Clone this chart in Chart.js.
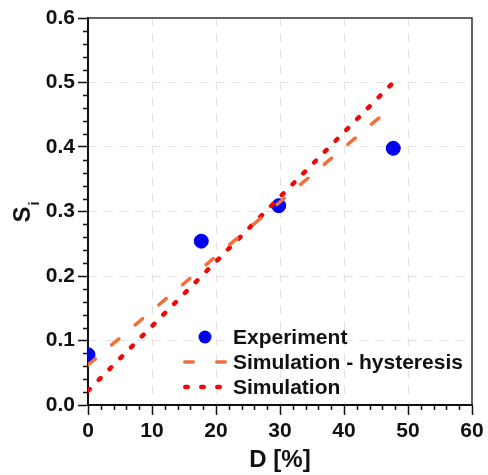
<!DOCTYPE html>
<html>
<head>
<meta charset="utf-8">
<script src="https://cdn.jsdelivr.net/npm/chart.js@4.4.0/dist/chart.umd.min.js"></script>
<style>
  html, body { margin: 0; padding: 0; background: #fff; }
  #wrap { width: 488px; height: 475px; }
</style>
</head>
<body>
<div id="wrap"><canvas id="chart"></canvas></div>
<script>
// values
const expD = [0, 17.7, 29.8, 47.7];
const expS = [0.078, 0.254, 0.309, 0.398];
const simD = [0, 47.7];
const simHystS = [0.062, 0.464];
const simS = [0.022, 0.500];
const xTicks = [0, 10, 20, 30, 40, 50, 60];
const yTicks = [0, 0.1, 0.2, 0.3, 0.4, 0.5, 0.6];
const seriesNames = ['Experiment', 'Simulation - hysteresis', 'Simulation'];

const FONT = "'Liberation Sans', Arial, Helvetica, sans-serif";
const colors = {
  blue: '#0000f0',
  orange: '#f0703c',
  red: '#f00808',
  axis: '#111',
  grid: '#e2e2e2',
};

const pts = (xs, ys) => xs.map((v, i) => ({ x: v, y: ys[i] }));

// minor ticks, top/right frame, y title and legend inside the plot
const extras = {
  id: 'extras',
  afterDraw(chart) {
    const { ctx, chartArea: a, scales: { x, y } } = chart;
    ctx.save();

    ctx.strokeStyle = colors.axis;
    ctx.lineWidth = 1.5;
    ctx.beginPath();
    for (let i = 0; i < xTicks.length - 1; i++) {
      const step = (xTicks[i + 1] - xTicks[i]) / 5;
      for (let k = 1; k < 5; k++) {
        const px = Math.round(x.getPixelForValue(xTicks[i] + k * step)) + 0.5;
        ctx.moveTo(px, a.bottom);
        ctx.lineTo(px, a.bottom + 5);
      }
    }
    for (let i = 0; i < yTicks.length - 1; i++) {
      const step = (yTicks[i + 1] - yTicks[i]) / 5;
      for (let k = 1; k < 5; k++) {
        const py = Math.round(y.getPixelForValue(yTicks[i] + k * step)) + 0.5;
        ctx.moveTo(a.left, py);
        ctx.lineTo(a.left - 5, py);
      }
    }
    ctx.stroke();

    // frame top / right
    ctx.strokeStyle = '#333';
    ctx.lineWidth = 1.5;
    ctx.beginPath();
    ctx.moveTo(a.left, a.top);
    ctx.lineTo(a.right, a.top);
    ctx.lineTo(a.right, a.bottom);
    ctx.stroke();

    // y title S_i
    ctx.fillStyle = '#111';
    ctx.translate(23, (a.top + a.bottom) / 2);
    ctx.rotate(-Math.PI / 2);
    ctx.textBaseline = 'middle';
    ctx.textAlign = 'center';
    ctx.font = `bold 24px ${FONT}`;
    ctx.fillText('S', -3, 0);
    ctx.font = `bold 14px ${FONT}`;
    ctx.fillText('i', 8, 12);
    ctx.setTransform(1, 0, 0, 1, 0, 0);

    // legend
    const ds = chart.data.datasets;
    const lx = a.left + 95, tx = a.left + 145;
    const rows = [a.bottom - 68, a.bottom - 43, a.bottom - 18];
    ctx.font = `bold 21px ${FONT}`;
    ctx.textAlign = 'left';
    ctx.textBaseline = 'middle';
    ds.forEach((d, i) => {
      const ry = rows[i];
      if (!d.showLine) {
        ctx.fillStyle = d.backgroundColor;
        ctx.beginPath();
        ctx.arc(lx + 22, ry, 6.5, 0, Math.PI * 2);
        ctx.fill();
      } else {
        const cap = d.borderWidth / 2;
        ctx.strokeStyle = d.borderColor;
        ctx.lineWidth = d.borderWidth;
        ctx.lineCap = d.borderCapStyle;
        ctx.setLineDash(d.legendDash);
        ctx.beginPath();
        ctx.moveTo(lx + cap, ry);
        ctx.lineTo(lx + d.legendEnd - cap, ry);
        ctx.stroke();
        ctx.setLineDash([]);
      }
      ctx.fillStyle = '#111';
      ctx.fillText(d.label, tx, ry + 1);
    });
    ctx.restore();
  }
};

const axisCommon = {
  type: 'linear',
  grid: {
    color: c => (c.index === 0 || c.index === c.chart.scales[c.scale.id].ticks.length - 1) ? 'rgba(0,0,0,0)' : colors.grid,
    lineWidth: 1,
    tickLength: 10,
    tickColor: colors.axis,
    tickWidth: 1.5,
  },
  border: { color: colors.axis, width: 2, dash: [8, 8] },
};

new Chart(document.getElementById('chart'), {
  type: 'scatter',
  data: {
    datasets: [
      {
        label: seriesNames[0],
        data: pts(expD, expS),
        backgroundColor: colors.blue,
        borderColor: colors.blue,
        pointRadius: 7,
        pointHoverRadius: 7,
        showLine: false,
        order: 3,
      },
      {
        label: seriesNames[1],
        data: pts(simD, simHystS),
        showLine: true,
        borderColor: colors.orange,
        backgroundColor: colors.orange,
        borderWidth: 3.5,
        borderCapStyle: 'round',
        borderDash: [9.5, 21.5],
        pointRadius: 0,
        legendDash: [8.5, 23.5],
        legendEnd: 44,
        order: 1,
      },
      {
        label: seriesNames[2],
        data: pts(simD, simS),
        showLine: true,
        borderColor: colors.red,
        backgroundColor: colors.red,
        borderWidth: 4.5,
        borderCapStyle: 'round',
        borderDash: [2.5, 12.8],
        pointRadius: 0,
        legendDash: [2.5, 13.5],
        legendEnd: 39,
        order: 2,
      },
    ],
  },
  options: {
    responsive: true,
    maintainAspectRatio: false,
    animation: false,
    events: [],
    layout: { padding: { left: 0, right: 16, top: 18, bottom: 0 } },
    plugins: {
      legend: { display: false },
      tooltip: { enabled: false },
    },
    scales: {
      x: {
        ...axisCommon,
        position: 'bottom',
        min: 0,
        max: 60,
        afterBuildTicks: s => { s.ticks = xTicks.map(v => ({ value: v })); },
        afterFit: s => { s.height = 70; },
        ticks: {
          color: '#111',
          padding: 4,
          maxRotation: 0,
          font: { family: FONT, size: 21, weight: 'bold' },
        },
        title: {
          display: true,
          text: 'D [%]',
          color: '#111',
          padding: { top: 0, bottom: 0 },
          font: { family: FONT, size: 24, weight: 'bold' },
        },
      },
      y: {
        ...axisCommon,
        min: 0,
        max: 0.6,
        afterBuildTicks: s => { s.ticks = yTicks.map(v => ({ value: v })); },
        afterFit: s => { s.width = 88; },
        ticks: {
          color: '#111',
          padding: 3,
          font: { family: FONT, size: 21, weight: 'bold' },
          callback: v => v.toFixed(1),
        },
      },
    },
  },
  plugins: [extras],
});
</script>
</body>
</html>
